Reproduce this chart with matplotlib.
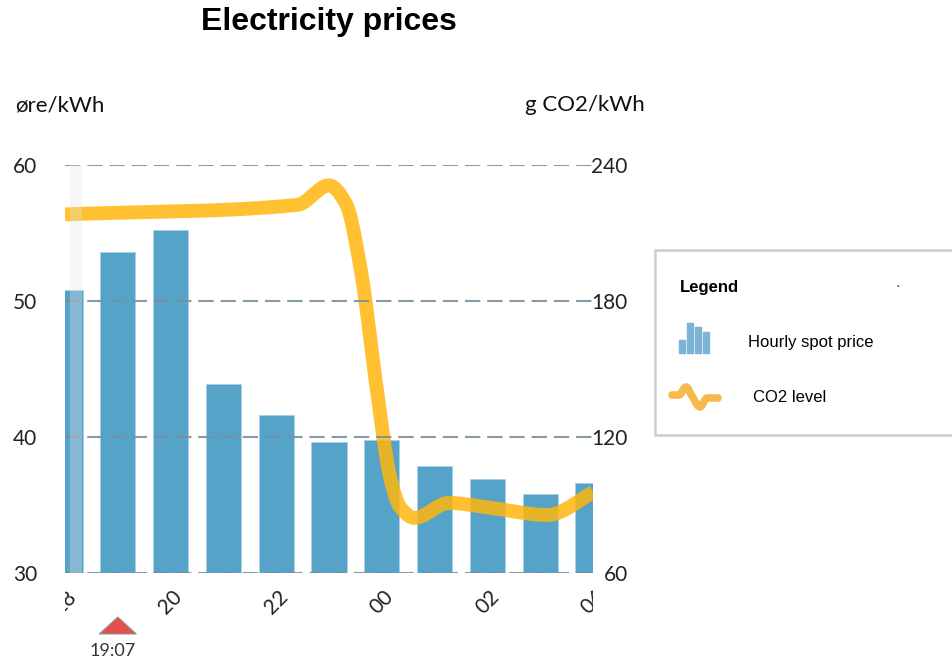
import numpy as np
import matplotlib
matplotlib.use("Agg")
import matplotlib.pyplot as plt
from matplotlib.patches import FancyBboxPatch, Rectangle, Polygon
from matplotlib.transforms import Bbox, TransformedBbox

# ---------------- data ----------------
hours = [18, 19, 20, 21, 22, 23, 24, 25, 26, 27, 28]
spot_price = [50.8, 53.6, 55.2, 43.9, 41.6, 39.6, 39.8, 37.9, 36.9, 35.8, 36.6]

co2_times = [18.0, 22.4, 23.0, 23.32, 23.6, 23.9, 24.16, 24.35, 24.62, 25.27, 26.07, 27.14, 28.0]
co2_values = [218.2, 222.4, 231.0, 223.0, 194.0, 142.0, 102.0, 89.0, 84.3, 90.9, 88.7, 85.6, 95.5]

tick_hours = [18, 20, 22, 24, 26, 28]
tick_labels = ["18", "20", "22", "00", "02", "04"]
left_ticks = [30, 40, 50, 60]
right_ticks = [60, 120, 180, 240]
now_hour = 19.0
now_label = "19:07"
past_until = 18.32


def pchip(x, y, xs):
    x = np.asarray(x, float); y = np.asarray(y, float)
    h = np.diff(x); d = np.diff(y) / h
    n = len(x); m = np.zeros(n)
    for k in range(1, n - 1):
        if d[k - 1] * d[k] > 0:
            w1 = 2 * h[k] + h[k - 1]; w2 = h[k] + 2 * h[k - 1]
            m[k] = (w1 + w2) / (w1 / d[k - 1] + w2 / d[k])
    m[0] = d[0]; m[-1] = d[-1]
    out = np.empty_like(xs)
    for i, xv in enumerate(xs):
        k = min(max(np.searchsorted(x, xv) - 1, 0), n - 2)
        t = (xv - x[k]) / h[k]
        h00 = 2*t**3 - 3*t**2 + 1; h10 = t**3 - 2*t**2 + t
        h01 = -2*t**3 + 3*t**2; h11 = t**3 - t**2
        out[i] = h00*y[k] + h10*h[k]*m[k] + h01*y[k+1] + h11*h[k]*m[k+1]
    return out


plt.rcParams['lines.scale_dashes'] = False
W, H = 952, 662
fig = plt.figure(figsize=(W / 100, H / 100), dpi=100)
ax = fig.add_axes([65 / W, 1 - 573 / H, (593 - 65) / W, (573 - 165) / H])
ax2 = ax.twinx()

xmin = 19 + (65 - 114) / 53.9
xmax = 19 + (593 - 114) / 53.9

ax.bar(hours, spot_price, width=0.668, color='#56a3ca', edgecolor='#a9d0e6',
       linewidth=0.6, zorder=1)
ax.set_xlim(xmin, xmax)
ax.set_ylim(30, 60)
ax2.set_ylim(60, 240)

xs = np.linspace(18.0, 28.0, 800)
ax2.plot(xs, pchip(co2_times, co2_values, xs), color='#ffb70e', alpha=0.85,
         lw=10, solid_capstyle='butt', zorder=2)

for v in right_ticks:
    ax2.axhline(v, color='#7a8e9a', lw=1.5, ls=(0, (11, 5)), alpha=0.9, zorder=3)

ax2.axvspan(xmin, past_until, color='#e9e6e3', alpha=0.32, lw=0, zorder=5)

for a in (ax, ax2):
    for s in a.spines.values():
        s.set_visible(False)

ax.set_yticks(left_ticks)
ax2.set_yticks(right_ticks)
ax.tick_params(axis='y', length=0, pad=20, labelsize=15, labelcolor='#222222')
ax2.tick_params(axis='y', length=0, pad=25, labelsize=15, labelcolor='#222222')
for lab in ax2.get_yticklabels():
    lab.set_horizontalalignment('right')
for lab in ax.get_yticklabels() + ax2.get_yticklabels():
    lab.set_fontfamily('Lato')

ax.set_xticks(tick_hours)
ax.set_xticklabels(tick_labels, rotation=45, ha='center', va='top',
                   fontsize=15, color='#222222', family='Lato')
ax.tick_params(axis='x', length=0, pad=10)
clip = TransformedBbox(Bbox([[65 / W, 0], [593 / W, 1]]), fig.transFigure)
for lab in ax.get_xticklabels():
    lab.set_clip_box(clip)
    lab.set_clip_on(True)
ax2.tick_params(axis='x', length=0, labelbottom=False)

# current time marker (flat red triangle below the axis)
half_w = 19 / 53.9
y_base = -(634 - 573) / (573 - 165)
y_apex = -(617 - 573) / (573 - 165)
tri = Polygon([[now_hour - half_w, y_base], [now_hour + half_w, y_base], [now_hour, y_apex]],
              closed=True, facecolor='#e5504a', edgecolor='#8a9aa5', lw=0.8,
              transform=ax.get_xaxis_transform(), clip_on=False)
ax.add_patch(tri)
fig.text(113 / W, 1 - 651 / H, now_label, ha='center', va='center',
         fontsize=13, color='#333333', family='Lato')

# titles / units
fig.text(329 / W, 1 - 22 / H, "Electricity prices", ha='center', va='center',
         fontsize=23, fontweight='bold', family='Liberation Sans')
fig.text(15 / W, 1 - 105 / H, "øre/kWh", ha='left', va='center',
         fontsize=16, color='#111111', family='Lato')
fig.text(525 / W, 1 - 105 / H, "g CO2/kWh", ha='left', va='center',
         fontsize=16, color='#111111', family='Lato')

# legend box
box = FancyBboxPatch((655 / W, 1 - 435 / H), (980 - 655) / W, (435 - 250) / H,
                     boxstyle='square,pad=0', transform=fig.transFigure,
                     facecolor='white', edgecolor='#cccccc', lw=1.8, zorder=1)
fig.patches.append(box)
fig.text(680 / W, 1 - 288 / H, "Legend", ha='left', va='center', fontsize=12,
         fontweight='bold', family='Liberation Sans', zorder=3)
fig.text(898 / W, 1 - 287 / H, "·", ha='center', va='center', fontsize=10,
         color='#333333', zorder=3)
fig.text(748 / W, 1 - 342 / H, "Hourly spot price", ha='left', va='center',
         fontsize=12, family='Liberation Sans', zorder=3)
fig.text(753 / W, 1 - 398 / H, "CO2 level", ha='left', va='center',
         fontsize=12, family='Liberation Sans', zorder=3)

# legend icons (pixel-coordinate axes)
ic1 = fig.add_axes([676 / W, 1 - 356 / H, 36 / W, 36 / H], zorder=5)
ic1.axis('off')
ic1.set_xlim(676, 712); ic1.set_ylim(356, 320)
for x0, top in [(679, 340), (687, 323), (695, 327), (703, 332)]:
    ic1.add_patch(Rectangle((x0, top), 6, 353 - top, color='#7db3d6'))
ic2 = fig.add_axes([664 / W, 1 - 418 / H, 60 / W, 38 / H], zorder=5)
ic2.axis('off')
ic2.set_xlim(664, 724); ic2.set_ylim(418, 380)
wx = [672, 679, 686, 692, 700, 707, 718]
wy = [395, 395, 387, 396, 407, 398, 398]
tt = np.linspace(672, 718, 120)
ic2.plot(tt, pchip(wx, wy, tt), color='#f5b94c', lw=5.5, solid_capstyle='round')

fig.savefig("out.png", dpi=100)
